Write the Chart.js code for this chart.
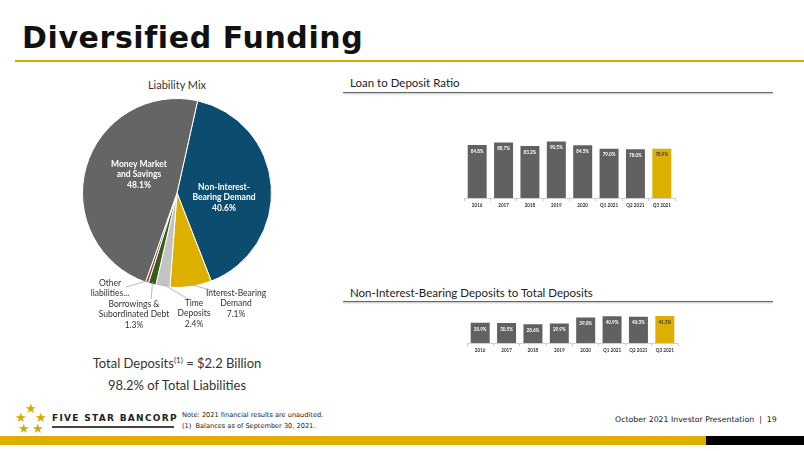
<!DOCTYPE html>
<html>
<head>
<meta charset="utf-8">
<script src="https://cdn.jsdelivr.net/npm/chart.js@4/dist/chart.umd.min.js"></script>
<style>
  body { margin:0; width:804px; height:451px; background:#fff; position:relative; overflow:hidden; font-family:Lato, "Open Sans", sans-serif; color:#333; }
  .abs { position:absolute; }
  #title { left:22px; top:20px; font-family:"DejaVu Sans", Verdana, sans-serif; font-weight:bold; font-size:30px; color:#111; letter-spacing:0.6px; }
  #titleLine { left:15px; top:60px; width:789px; height:2px; background:#d4a900; }
  .head { font-size:11.5px; color:#222; }
  .rule { height:1px; background:#666; box-shadow:0 1px 2px rgba(0,0,0,0.35); }
  .star { position:absolute; color:#d4a900; font-family:"DejaVu Sans", sans-serif; font-size:13px; line-height:13px; }
  canvas { position:absolute; }
</style>
</head>
<body>
<div id="title" class="abs">Diversified Funding</div>
<div id="titleLine" class="abs"></div>

<div class="abs" style="left:117px; top:78px; width:120px; text-align:center; font-size:11px;">Liability Mix</div>

<div class="abs head" style="left:350px; top:76px;">Loan to Deposit Ratio</div>
<div class="abs rule" style="left:343px; top:92px; width:430px;"></div>
<div class="abs head" style="left:350px; top:286px;">Non-Interest-Bearing Deposits to Total Deposits</div>
<div class="abs rule" style="left:343px; top:301px; width:430px;"></div>

<div class="abs" style="left:57px; top:355px; width:240px; text-align:center; font-size:13px;">Total Deposits<sup style="font-size:8px;">(1)</sup> = $2.2 Billion</div>
<div class="abs" style="left:57px; top:377px; width:240px; text-align:center; font-size:13px;">98.2% of Total Liabilities</div>

<canvas id="pie" style="left:67px; top:83px; width:220px; height:250px;"></canvas>
<canvas id="ltd" style="left:455px; top:130px; width:230px; height:82px;"></canvas>
<canvas id="nib" style="left:458px; top:300px; width:230px; height:57px;"></canvas>

<!-- footer -->
<div class="star" style="left:25px; top:402px;">★</div>
<div class="star" style="left:15px; top:411px;">★</div>
<div class="star" style="left:35px; top:411px;">★</div>
<div class="star" style="left:18px; top:422px;">★</div>
<div class="star" style="left:32px; top:422px;">★</div>
<div class="abs" style="left:52px; top:413px; font-family:'DejaVu Sans', sans-serif; font-weight:bold; font-size:9px; letter-spacing:1.3px; color:#222;">FIVE STAR BANCORP</div>
<div class="abs" style="left:52px; top:426px; width:122px; height:2px; background:#444;"></div>
<div class="abs" style="left:182px; top:410px; font-family:'DejaVu Sans', sans-serif; font-size:6.6px; color:#222; line-height:10.5px;">Note: 2021 financial results are unaudited.<br>(1)&nbsp;&nbsp;Balances as of September 30, 2021.</div>
<div class="abs" style="left:615px; top:415px; font-family:'DejaVu Sans', sans-serif; font-size:7.8px; color:#222;">October 2021 Investor Presentation&nbsp;&nbsp;|&nbsp;&nbsp;19</div>
<div class="abs" style="left:0; top:436px; width:706px; height:9px; background:#ddb000;"></div>
<div class="abs" style="left:706px; top:436px; width:98px; height:9px; background:#000;"></div>

<script>
// liability mix, clockwise from the blue slice
var mixLabels = ["Non-Interest-Bearing Demand", "Interest-Bearing Demand", "Time Deposits", "Borrowings & Subordinated Debt", "Other liabilities...", "Money Market and Savings"];
var mixValues = [40.6, 7.1, 2.4, 1.3, 0.5, 48.1];
var mixColors = ["#0c4d6f", "#ddb000", "#c3c3c3", "#3b5a1c", "#9b4a30", "#656565"];

var periods = ["2016", "2017", "2018", "2019", "2020", "Q1 2021", "Q2 2021", "Q3 2021"];
var loanToDeposit = [84.8, 88.7, 83.2, 90.5, 84.5, 79.0, 78.0, 78.9];
var nibToDeposits = [30.9, 30.5, 28.6, 29.9, 39.0, 40.9, 40.3, 41.3];
var barColors = ["#616161", "#616161", "#616161", "#616161", "#616161", "#616161", "#616161", "#ddb000"];

// text blocks for each slice, page position of the text centre
var pieText = [
  { lines: ["Non-Interest-", "Bearing Demand", "40.6%"], x: 224, y: 187, inside: true },
  { lines: ["Interest-Bearing", "Demand", "7.1%"], x: 236, y: 293, lead: [214, 291] },
  { lines: ["Time", "Deposits", "2.4%"], x: 194, y: 303, lead: [190, 300] },
  { lines: ["Borrowings &", "Subordinated Debt", "1.3%"], x: 134, y: 304, lead: [151, 299] },
  { lines: ["Other", "liabilities..."], x: 110, y: 283, lead: [126, 287] },
  { lines: ["Money Market", "and Savings", "48.1%"], x: 139, y: 164, inside: true }
];
var pieLeft = 67, pieTop = 83;

var pieLabels = {
  id: "pieLabels",
  afterDatasetsDraw: function(chart) {
    var ctx = chart.ctx;
    var arcs = chart.getDatasetMeta(0).data;
    ctx.save();
    ctx.textAlign = "center";
    ctx.textBaseline = "middle";
    pieText.forEach(function(t, i) {
      var arc = arcs[i];
      var tx = t.x - pieLeft, ty = t.y - pieTop;
      if (t.lead) {
        var mid = (arc.startAngle + arc.endAngle) / 2;
        ctx.strokeStyle = "#a8a8a8";
        ctx.lineWidth = 0.8;
        ctx.beginPath();
        ctx.moveTo(arc.x + Math.cos(mid) * (arc.outerRadius - 2), arc.y + Math.sin(mid) * (arc.outerRadius - 2));
        ctx.lineTo(t.lead[0] - pieLeft, t.lead[1] - pieTop);
        ctx.stroke();
      }
      ctx.fillStyle = t.inside ? "#fff" : "#333";
      ctx.font = (t.inside ? "bold " : "") + "8.5px Lato, sans-serif";
      t.lines.forEach(function(l, k) {
        ctx.fillText(l, tx, ty + k * 10.5);
      });
    });
    ctx.restore();
  }
};

new Chart("pie", {
  type: "pie",
  data: {
    labels: mixLabels,
    datasets: [{ data: mixValues, backgroundColor: mixColors, borderColor: "#fff", borderWidth: 1 }]
  },
  options: {
    responsive: false,
    animation: false,
    rotation: 12.6,
    layout: { padding: { left: 15, right: 15, top: 15, bottom: 45 } },
    plugins: { legend: { display: false }, tooltip: { enabled: false } }
  },
  plugins: [pieLabels]
});

var barLabels = {
  id: "barLabels",
  afterDatasetsDraw: function(chart) {
    var ctx = chart.ctx;
    var ds = chart.data.datasets[0];
    ctx.save();
    ctx.textAlign = "center";
    ctx.textBaseline = "top";
    ctx.font = "bold 4.6px Lato, sans-serif";
    chart.getDatasetMeta(0).data.forEach(function(bar, i) {
      ctx.fillStyle = i === ds.data.length - 1 ? "#333" : "#fff";
      ctx.fillText(ds.data[i].toFixed(1) + "%", bar.x, bar.y + 4);
    });
    ctx.restore();
  }
};

function barChart(id, values, yMax, pad) {
  new Chart(id, {
    type: "bar",
    data: {
      labels: periods,
      datasets: [{ data: values, backgroundColor: barColors, barPercentage: 0.72, categoryPercentage: 1 }]
    },
    options: {
      responsive: false,
      animation: false,
      layout: { padding: pad },
      plugins: { legend: { display: false }, tooltip: { enabled: false } },
      scales: {
        y: { display: false, min: 0, max: yMax },
        x: {
          afterFit: function(s) { s.height = 14; },
          border: { color: "#d0d0d0" },
          grid: { offset: true, drawOnChartArea: false, tickLength: 3, color: "#c8c8c8" },
          ticks: { color: "#333", padding: 2, font: { size: 4.6, weight: "bold", family: "Lato" } }
        }
      }
    },
    plugins: [barLabels]
  });
}

barChart("ltd", loanToDeposit, 100, { left: 9, right: 10, top: 5.5, bottom: 0 });
barChart("nib", nibToDeposits, 60, { left: 9, right: 10, top: 3.8, bottom: 0 });
</script>
</body>
</html>
